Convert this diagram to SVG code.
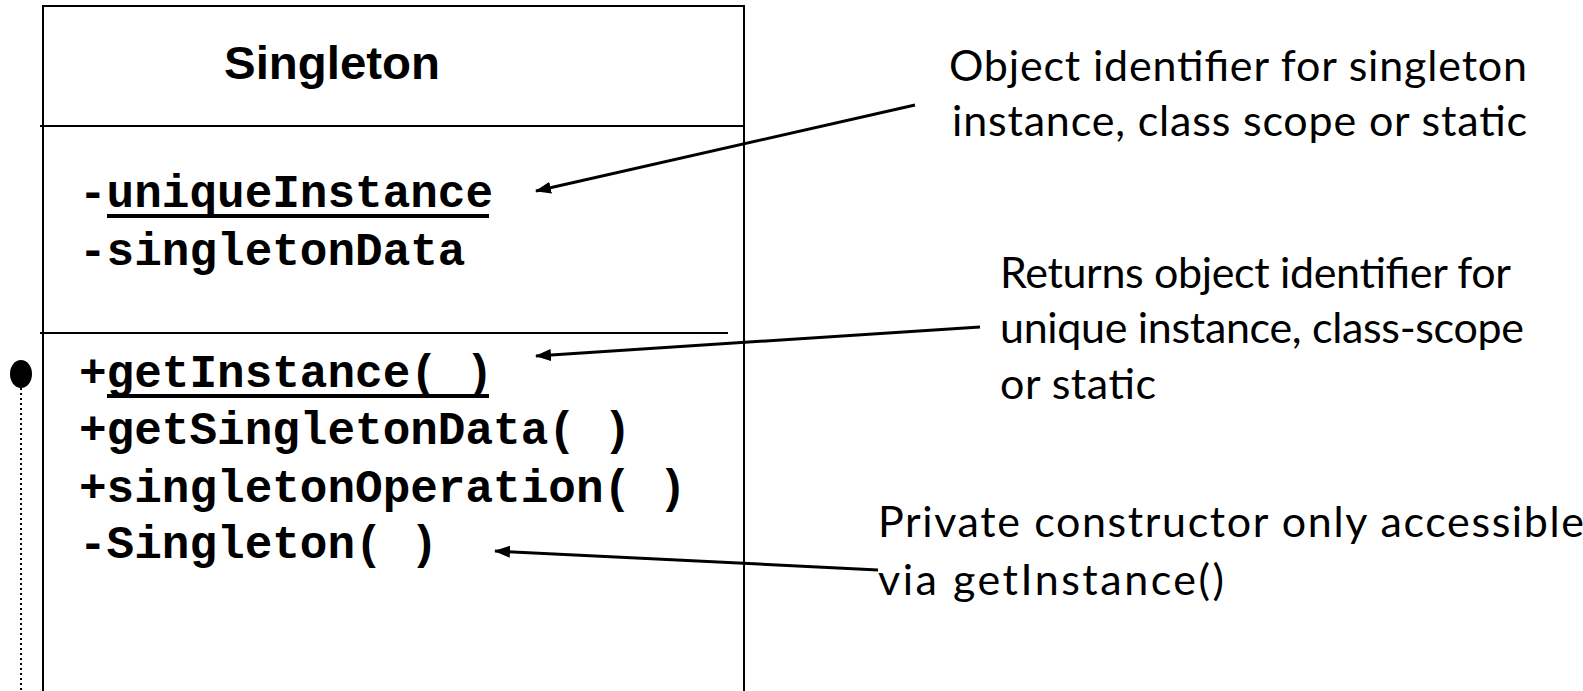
<svg xmlns="http://www.w3.org/2000/svg" width="1583" height="691" viewBox="0 0 1583 691">
<defs>
<marker id="ah" viewBox="0 0 16 12" refX="15" refY="6" markerWidth="16" markerHeight="12" markerUnits="userSpaceOnUse" orient="auto">
<path d="M0,0 L16,6 L0,12 Z" fill="#000"/>
</marker>
<style>
.box{fill:none;stroke:#000;stroke-width:2}
.div{stroke:#000;stroke-width:2}
.ul{stroke:#000;stroke-width:4}
.title{font-family:"Liberation Sans",Arial,sans-serif;font-weight:bold;font-size:47px;fill:#000}
.mono{font-family:"Liberation Mono","Courier New",monospace;font-weight:bold;font-size:46px;fill:#000}
.note{font-family:Lato,"Open Sans",sans-serif;font-size:43px;fill:#000}
.conn{stroke:#000;stroke-width:3;fill:none}
</style>
</defs>
<g id="singleton-class">
<path class="box" d="M43,691 L43,6 L744,6 L744,691"/>
<line class="div" x1="40" y1="126" x2="744" y2="126"/>
<line class="div" x1="40" y1="333" x2="728" y2="333"/>
<text class="title" x="224" y="79" textLength="216" lengthAdjust="spacingAndGlyphs">Singleton</text>
<text class="mono" x="79" y="207">-uniqueInstance</text>
<line class="ul" x1="107" y1="216" x2="489" y2="216"/>
<text class="mono" x="79" y="265">-singletonData</text>
<text class="mono" x="79" y="387">+getInstance( )</text>
<line class="ul" x1="107" y1="396" x2="489" y2="396"/>
<text class="mono" x="79" y="444">+getSingletonData( )</text>
<text class="mono" x="79" y="502">+singletonOperation( )</text>
<text class="mono" x="79" y="558">-Singleton( )</text>
</g>
<g id="lifeline">
<ellipse cx="21" cy="374" rx="11" ry="14" fill="#000"/>
<line x1="21" y1="388" x2="21" y2="691" stroke="#000" stroke-width="2" stroke-dasharray="2,3"/>
</g>
<g id="note-uniqueInstance">
<text class="note" x="949" y="81" textLength="578">Object identifier for singleton</text>
<text class="note" x="952" y="136" textLength="575">instance, class scope or static</text>
</g>
<g id="note-getInstance">
<text class="note" x="1000" y="288" textLength="511">Returns object identifier for</text>
<text class="note" x="1000" y="343" textLength="524">unique instance, class-scope</text>
<text class="note" x="1000" y="399" textLength="156">or static</text>
</g>
<g id="note-constructor">
<text class="note" x="878" y="537" textLength="706">Private constructor only accessible</text>
<text class="note" x="878" y="595" textLength="346">via getInstance()</text>
</g>
<g id="connectors">
<line class="conn" x1="915" y1="105" x2="536" y2="191" marker-end="url(#ah)"/>
<line class="conn" x1="980" y1="327" x2="536" y2="356" marker-end="url(#ah)"/>
<line class="conn" x1="878" y1="570" x2="495" y2="551" marker-end="url(#ah)"/>
</g>
</svg>
